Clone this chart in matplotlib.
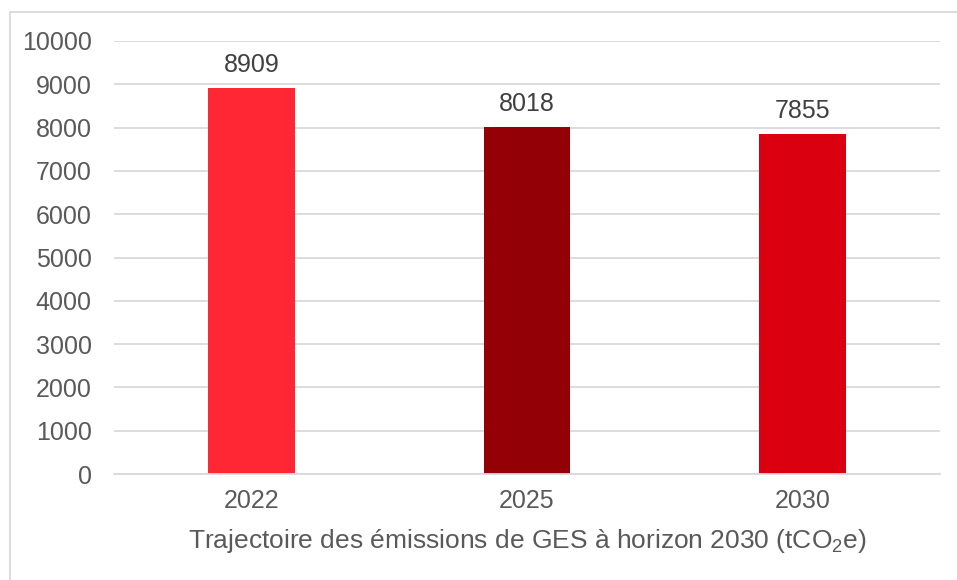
import matplotlib
matplotlib.use("Agg")
import matplotlib.pyplot as plt
from matplotlib.patches import Rectangle

categories = ["2022", "2025", "2030"]
values = [8909, 8018, 7855]
colors = ["#FF2733", "#930005", "#DB0010"]
yticks = [0, 1000, 2000, 3000, 4000, 5000, 6000, 7000, 8000, 9000, 10000]
xlabel = "Trajectoire des émissions de GES à horizon 2030 (tCO$_2$e)"

plt.rcParams['font.family'] = ['Liberation Sans', 'DejaVu Sans']
plt.rcParams['mathtext.fontset'] = 'custom'
plt.rcParams['mathtext.rm'] = 'Liberation Sans'
plt.rcParams['mathtext.it'] = 'Liberation Sans'
plt.rcParams['mathtext.default'] = 'regular'

W, H = 957, 580
fig = plt.figure(figsize=(W/100, H/100), dpi=100)
ax = fig.add_axes([114/W, 1-474/H, (940-114)/W, (474-41)/H])

x = list(range(len(categories)))
bars = ax.bar(x, values, width=0.315, color=colors, zorder=3)
for xi, v in zip(x, values):
    ax.annotate(str(v), (xi, v), xytext=(0, 8), textcoords="offset points",
                ha="center", va="bottom", fontsize=18, color="#404040")

ax.set_xlim(-0.5, 2.5)
ax.set_ylim(0, 10000)
ax.set_yticks(yticks)
ax.set_yticklabels([str(t) for t in yticks])
ax.set_xticks(x)
ax.set_xticklabels(categories)
ax.tick_params(axis='both', length=0, labelsize=18, labelcolor="#595959")
ax.tick_params(axis='y', pad=16)
ax.tick_params(axis='x', pad=11)
ax.grid(axis='y', color="#D9D9D9", linewidth=1.3, zorder=0)
for s in ["top", "right", "left"]:
    ax.spines[s].set_visible(False)
ax.spines["bottom"].set_color("#D9D9D9")
ax.spines["bottom"].set_linewidth(1.3)
ax.spines["bottom"].set_zorder(4)
ax.set_xlabel(xlabel, fontsize=19, color="#595959", labelpad=10)

fig.patches.append(Rectangle((9.5/W, -0.1), 1.2, 1 - 11.5/H + 0.1,
                             transform=fig.transFigure, fill=False,
                             edgecolor="#D9D9D9", linewidth=1.3))

fig.savefig("out.png", dpi=100)
